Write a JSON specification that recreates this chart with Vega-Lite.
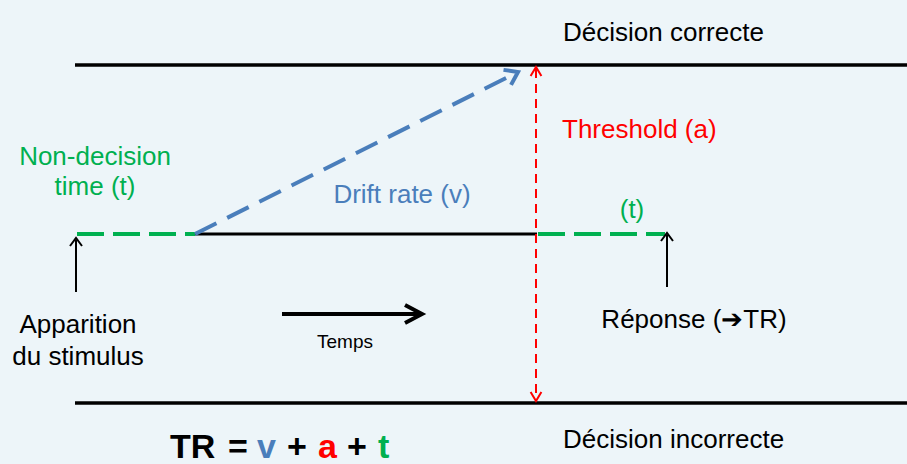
{
  "$schema": "https://vega.github.io/schema/vega-lite/v6.json",
  "width": 907,
  "height": 464,
  "padding": 0,
  "autosize": {"type": "none"},
  "background": "#EDF5F9",
  "config": {"view": {"stroke": null}, "text": {"font": "Liberation Sans"}},
  "datasets": {
    "segments": [
      {"kind": "boundary", "x": 75, "y": 65, "x2": 907, "y2": 65},
      {"kind": "boundary", "x": 75, "y": 403, "x2": 907, "y2": 403},
      {"kind": "path", "x": 195, "y": 234, "x2": 537, "y2": 234},
      {"kind": "pointer", "x": 76, "y": 240, "x2": 76, "y2": 292},
      {"kind": "pointer", "x": 667, "y": 235, "x2": 667, "y2": 287},
      {"kind": "time", "x": 282, "y": 314, "x2": 420, "y2": 314},
      {"kind": "nondecision", "x": 77, "y": 234, "x2": 195, "y2": 234},
      {"kind": "nondecision", "x": 538, "y": 234, "x2": 665, "y2": 234},
      {"kind": "drift", "x": 195, "y": 234, "x2": 516, "y2": 73},
      {"kind": "threshold", "x": 536, "y": 69, "x2": 536, "y2": 399}
    ],
    "heads": [
      {"kind": "up", "x": 76, "y": 238},
      {"kind": "up", "x": 667, "y": 233},
      {"kind": "right", "x": 422, "y": 314},
      {"kind": "drift", "x": 518, "y": 72},
      {"kind": "thrUp", "x": 536, "y": 67},
      {"kind": "thrDown", "x": 536, "y": 401}
    ],
    "labels": [
      {"kind": "blackLeft", "label": "Décision correcte", "x": 563, "y": 41},
      {"kind": "blackLeft", "label": "Décision incorrecte", "x": 563, "y": 448},
      {"kind": "blackCenter", "label": "Apparition", "x": 78, "y": 333},
      {"kind": "blackCenter", "label": "du stimulus", "x": 78, "y": 365},
      {"kind": "blackCenter", "label": "Réponse (➔TR)", "x": 694, "y": 328},
      {"kind": "green", "label": "Non-decision", "x": 95, "y": 165},
      {"kind": "green", "label": "time (t)", "x": 95, "y": 195},
      {"kind": "green", "label": "(t)", "x": 632, "y": 218},
      {"kind": "blue", "label": "Drift rate (v)", "x": 402, "y": 203},
      {"kind": "red", "label": "Threshold (a)", "x": 562, "y": 138},
      {"kind": "small", "label": "Temps", "x": 345, "y": 348},
      {"kind": "fBlack", "label": "TR", "x": 170, "y": 458},
      {"kind": "fBlack", "label": "=", "x": 228, "y": 458},
      {"kind": "fBlue", "label": "v", "x": 257, "y": 458},
      {"kind": "fBlack", "label": "+", "x": 287, "y": 458},
      {"kind": "fRed", "label": "a", "x": 318, "y": 458},
      {"kind": "fBlack", "label": "+", "x": 347, "y": 458},
      {"kind": "fGreen", "label": "t", "x": 378, "y": 458}
    ]
  },
  "layer": [
    {
      "data": {"name": "segments"},
      "transform": [{"filter": "datum.kind === 'boundary'"}],
      "mark": {"type": "rule", "color": "#000000", "strokeWidth": 3.5},
      "encoding": {
        "x": {"field": "x", "type": "quantitative", "scale": {"domain": [0, 907], "nice": false, "zero": false}, "axis": null},
        "y": {"field": "y", "type": "quantitative", "scale": {"domain": [0, 464], "nice": false, "zero": false, "reverse": true}, "axis": null},
        "x2": {"field": "x2"},
        "y2": {"field": "y2"}
      }
    },
    {
      "data": {"name": "segments"},
      "transform": [{"filter": "datum.kind === 'path'"}],
      "mark": {"type": "rule", "color": "#000000", "strokeWidth": 3},
      "encoding": {
        "x": {"field": "x", "type": "quantitative", "scale": {"domain": [0, 907], "nice": false, "zero": false}, "axis": null},
        "y": {"field": "y", "type": "quantitative", "scale": {"domain": [0, 464], "nice": false, "zero": false, "reverse": true}, "axis": null},
        "x2": {"field": "x2"},
        "y2": {"field": "y2"}
      }
    },
    {
      "data": {"name": "segments"},
      "transform": [{"filter": "datum.kind === 'pointer'"}],
      "mark": {"type": "rule", "color": "#000000", "strokeWidth": 2},
      "encoding": {
        "x": {"field": "x", "type": "quantitative", "scale": {"domain": [0, 907], "nice": false, "zero": false}, "axis": null},
        "y": {"field": "y", "type": "quantitative", "scale": {"domain": [0, 464], "nice": false, "zero": false, "reverse": true}, "axis": null},
        "x2": {"field": "x2"},
        "y2": {"field": "y2"}
      }
    },
    {
      "data": {"name": "segments"},
      "transform": [{"filter": "datum.kind === 'time'"}],
      "mark": {"type": "rule", "color": "#000000", "strokeWidth": 4},
      "encoding": {
        "x": {"field": "x", "type": "quantitative", "scale": {"domain": [0, 907], "nice": false, "zero": false}, "axis": null},
        "y": {"field": "y", "type": "quantitative", "scale": {"domain": [0, 464], "nice": false, "zero": false, "reverse": true}, "axis": null},
        "x2": {"field": "x2"},
        "y2": {"field": "y2"}
      }
    },
    {
      "data": {"name": "segments"},
      "transform": [{"filter": "datum.kind === 'nondecision'"}],
      "mark": {"type": "rule", "color": "#00B050", "strokeWidth": 4, "strokeDash": [27, 9]},
      "encoding": {
        "x": {"field": "x", "type": "quantitative", "scale": {"domain": [0, 907], "nice": false, "zero": false}, "axis": null},
        "y": {"field": "y", "type": "quantitative", "scale": {"domain": [0, 464], "nice": false, "zero": false, "reverse": true}, "axis": null},
        "x2": {"field": "x2"},
        "y2": {"field": "y2"}
      }
    },
    {
      "data": {"name": "segments"},
      "transform": [{"filter": "datum.kind === 'drift'"}],
      "mark": {"type": "rule", "color": "#4A7EBB", "strokeWidth": 4, "strokeDash": [24, 12]},
      "encoding": {
        "x": {"field": "x", "type": "quantitative", "scale": {"domain": [0, 907], "nice": false, "zero": false}, "axis": null},
        "y": {"field": "y", "type": "quantitative", "scale": {"domain": [0, 464], "nice": false, "zero": false, "reverse": true}, "axis": null},
        "x2": {"field": "x2"},
        "y2": {"field": "y2"}
      }
    },
    {
      "data": {"name": "segments"},
      "transform": [{"filter": "datum.kind === 'threshold'"}],
      "mark": {"type": "rule", "color": "#FF0000", "strokeWidth": 2, "strokeDash": [9, 6]},
      "encoding": {
        "x": {"field": "x", "type": "quantitative", "scale": {"domain": [0, 907], "nice": false, "zero": false}, "axis": null},
        "y": {"field": "y", "type": "quantitative", "scale": {"domain": [0, 464], "nice": false, "zero": false, "reverse": true}, "axis": null},
        "x2": {"field": "x2"},
        "y2": {"field": "y2"}
      }
    },
    {
      "data": {"name": "heads"},
      "transform": [{"filter": "datum.kind === 'up'"}],
      "mark": {"type": "point", "shape": "M-0.75,1L0,0L0.75,1", "size": 256, "filled": false, "color": "#000000", "strokeWidth": 2, "opacity": 1, "angle": 0},
      "encoding": {
        "x": {"field": "x", "type": "quantitative", "scale": {"domain": [0, 907], "nice": false, "zero": false}, "axis": null},
        "y": {"field": "y", "type": "quantitative", "scale": {"domain": [0, 464], "nice": false, "zero": false, "reverse": true}, "axis": null}
      }
    },
    {
      "data": {"name": "heads"},
      "transform": [{"filter": "datum.kind === 'right'"}],
      "mark": {"type": "point", "shape": "M-0.53,1L0,0L0.53,1", "size": 1156, "filled": false, "color": "#000000", "strokeWidth": 4, "opacity": 1, "angle": 90},
      "encoding": {
        "x": {"field": "x", "type": "quantitative", "scale": {"domain": [0, 907], "nice": false, "zero": false}, "axis": null},
        "y": {"field": "y", "type": "quantitative", "scale": {"domain": [0, 464], "nice": false, "zero": false, "reverse": true}, "axis": null}
      }
    },
    {
      "data": {"name": "heads"},
      "transform": [{"filter": "datum.kind === 'drift'"}],
      "mark": {"type": "point", "shape": "M-0.7,1L0,0L0.7,1", "size": 576, "filled": false, "color": "#4A7EBB", "strokeWidth": 4, "opacity": 1, "angle": 63.4},
      "encoding": {
        "x": {"field": "x", "type": "quantitative", "scale": {"domain": [0, 907], "nice": false, "zero": false}, "axis": null},
        "y": {"field": "y", "type": "quantitative", "scale": {"domain": [0, 464], "nice": false, "zero": false, "reverse": true}, "axis": null}
      }
    },
    {
      "data": {"name": "heads"},
      "transform": [{"filter": "datum.kind === 'thrUp'"}],
      "mark": {"type": "point", "shape": "M-0.6,1L0,0L0.6,1", "size": 324, "filled": false, "color": "#FF0000", "strokeWidth": 2, "opacity": 1, "angle": 0},
      "encoding": {
        "x": {"field": "x", "type": "quantitative", "scale": {"domain": [0, 907], "nice": false, "zero": false}, "axis": null},
        "y": {"field": "y", "type": "quantitative", "scale": {"domain": [0, 464], "nice": false, "zero": false, "reverse": true}, "axis": null}
      }
    },
    {
      "data": {"name": "heads"},
      "transform": [{"filter": "datum.kind === 'thrDown'"}],
      "mark": {"type": "point", "shape": "M-0.6,1L0,0L0.6,1", "size": 324, "filled": false, "color": "#FF0000", "strokeWidth": 2, "opacity": 1, "angle": 180},
      "encoding": {
        "x": {"field": "x", "type": "quantitative", "scale": {"domain": [0, 907], "nice": false, "zero": false}, "axis": null},
        "y": {"field": "y", "type": "quantitative", "scale": {"domain": [0, 464], "nice": false, "zero": false, "reverse": true}, "axis": null}
      }
    },
    {
      "data": {"name": "labels"},
      "transform": [{"filter": "datum.kind === 'blackLeft'"}],
      "mark": {"type": "text", "align": "left", "baseline": "alphabetic", "fontSize": 26, "color": "#000000"},
      "encoding": {
        "x": {"field": "x", "type": "quantitative", "scale": {"domain": [0, 907], "nice": false, "zero": false}, "axis": null},
        "y": {"field": "y", "type": "quantitative", "scale": {"domain": [0, 464], "nice": false, "zero": false, "reverse": true}, "axis": null},
        "text": {"field": "label"}
      }
    },
    {
      "data": {"name": "labels"},
      "transform": [{"filter": "datum.kind === 'blackCenter'"}],
      "mark": {"type": "text", "align": "center", "baseline": "alphabetic", "fontSize": 26, "color": "#000000"},
      "encoding": {
        "x": {"field": "x", "type": "quantitative", "scale": {"domain": [0, 907], "nice": false, "zero": false}, "axis": null},
        "y": {"field": "y", "type": "quantitative", "scale": {"domain": [0, 464], "nice": false, "zero": false, "reverse": true}, "axis": null},
        "text": {"field": "label"}
      }
    },
    {
      "data": {"name": "labels"},
      "transform": [{"filter": "datum.kind === 'green'"}],
      "mark": {"type": "text", "align": "center", "baseline": "alphabetic", "fontSize": 26, "color": "#00B050"},
      "encoding": {
        "x": {"field": "x", "type": "quantitative", "scale": {"domain": [0, 907], "nice": false, "zero": false}, "axis": null},
        "y": {"field": "y", "type": "quantitative", "scale": {"domain": [0, 464], "nice": false, "zero": false, "reverse": true}, "axis": null},
        "text": {"field": "label"}
      }
    },
    {
      "data": {"name": "labels"},
      "transform": [{"filter": "datum.kind === 'blue'"}],
      "mark": {"type": "text", "align": "center", "baseline": "alphabetic", "fontSize": 26, "color": "#4A7EBB"},
      "encoding": {
        "x": {"field": "x", "type": "quantitative", "scale": {"domain": [0, 907], "nice": false, "zero": false}, "axis": null},
        "y": {"field": "y", "type": "quantitative", "scale": {"domain": [0, 464], "nice": false, "zero": false, "reverse": true}, "axis": null},
        "text": {"field": "label"}
      }
    },
    {
      "data": {"name": "labels"},
      "transform": [{"filter": "datum.kind === 'red'"}],
      "mark": {"type": "text", "align": "left", "baseline": "alphabetic", "fontSize": 26, "color": "#FF0000"},
      "encoding": {
        "x": {"field": "x", "type": "quantitative", "scale": {"domain": [0, 907], "nice": false, "zero": false}, "axis": null},
        "y": {"field": "y", "type": "quantitative", "scale": {"domain": [0, 464], "nice": false, "zero": false, "reverse": true}, "axis": null},
        "text": {"field": "label"}
      }
    },
    {
      "data": {"name": "labels"},
      "transform": [{"filter": "datum.kind === 'small'"}],
      "mark": {"type": "text", "align": "center", "baseline": "alphabetic", "fontSize": 19, "color": "#000000"},
      "encoding": {
        "x": {"field": "x", "type": "quantitative", "scale": {"domain": [0, 907], "nice": false, "zero": false}, "axis": null},
        "y": {"field": "y", "type": "quantitative", "scale": {"domain": [0, 464], "nice": false, "zero": false, "reverse": true}, "axis": null},
        "text": {"field": "label"}
      }
    },
    {
      "data": {"name": "labels"},
      "transform": [{"filter": "datum.kind === 'fBlack'"}],
      "mark": {"type": "text", "align": "left", "baseline": "alphabetic", "fontSize": 34, "fontWeight": "bold", "color": "#000000"},
      "encoding": {
        "x": {"field": "x", "type": "quantitative", "scale": {"domain": [0, 907], "nice": false, "zero": false}, "axis": null},
        "y": {"field": "y", "type": "quantitative", "scale": {"domain": [0, 464], "nice": false, "zero": false, "reverse": true}, "axis": null},
        "text": {"field": "label"}
      }
    },
    {
      "data": {"name": "labels"},
      "transform": [{"filter": "datum.kind === 'fBlue'"}],
      "mark": {"type": "text", "align": "left", "baseline": "alphabetic", "fontSize": 34, "fontWeight": "bold", "color": "#4A7EBB"},
      "encoding": {
        "x": {"field": "x", "type": "quantitative", "scale": {"domain": [0, 907], "nice": false, "zero": false}, "axis": null},
        "y": {"field": "y", "type": "quantitative", "scale": {"domain": [0, 464], "nice": false, "zero": false, "reverse": true}, "axis": null},
        "text": {"field": "label"}
      }
    },
    {
      "data": {"name": "labels"},
      "transform": [{"filter": "datum.kind === 'fRed'"}],
      "mark": {"type": "text", "align": "left", "baseline": "alphabetic", "fontSize": 34, "fontWeight": "bold", "color": "#FF0000"},
      "encoding": {
        "x": {"field": "x", "type": "quantitative", "scale": {"domain": [0, 907], "nice": false, "zero": false}, "axis": null},
        "y": {"field": "y", "type": "quantitative", "scale": {"domain": [0, 464], "nice": false, "zero": false, "reverse": true}, "axis": null},
        "text": {"field": "label"}
      }
    },
    {
      "data": {"name": "labels"},
      "transform": [{"filter": "datum.kind === 'fGreen'"}],
      "mark": {"type": "text", "align": "left", "baseline": "alphabetic", "fontSize": 34, "fontWeight": "bold", "color": "#00B050"},
      "encoding": {
        "x": {"field": "x", "type": "quantitative", "scale": {"domain": [0, 907], "nice": false, "zero": false}, "axis": null},
        "y": {"field": "y", "type": "quantitative", "scale": {"domain": [0, 464], "nice": false, "zero": false, "reverse": true}, "axis": null},
        "text": {"field": "label"}
      }
    }
  ]
}
